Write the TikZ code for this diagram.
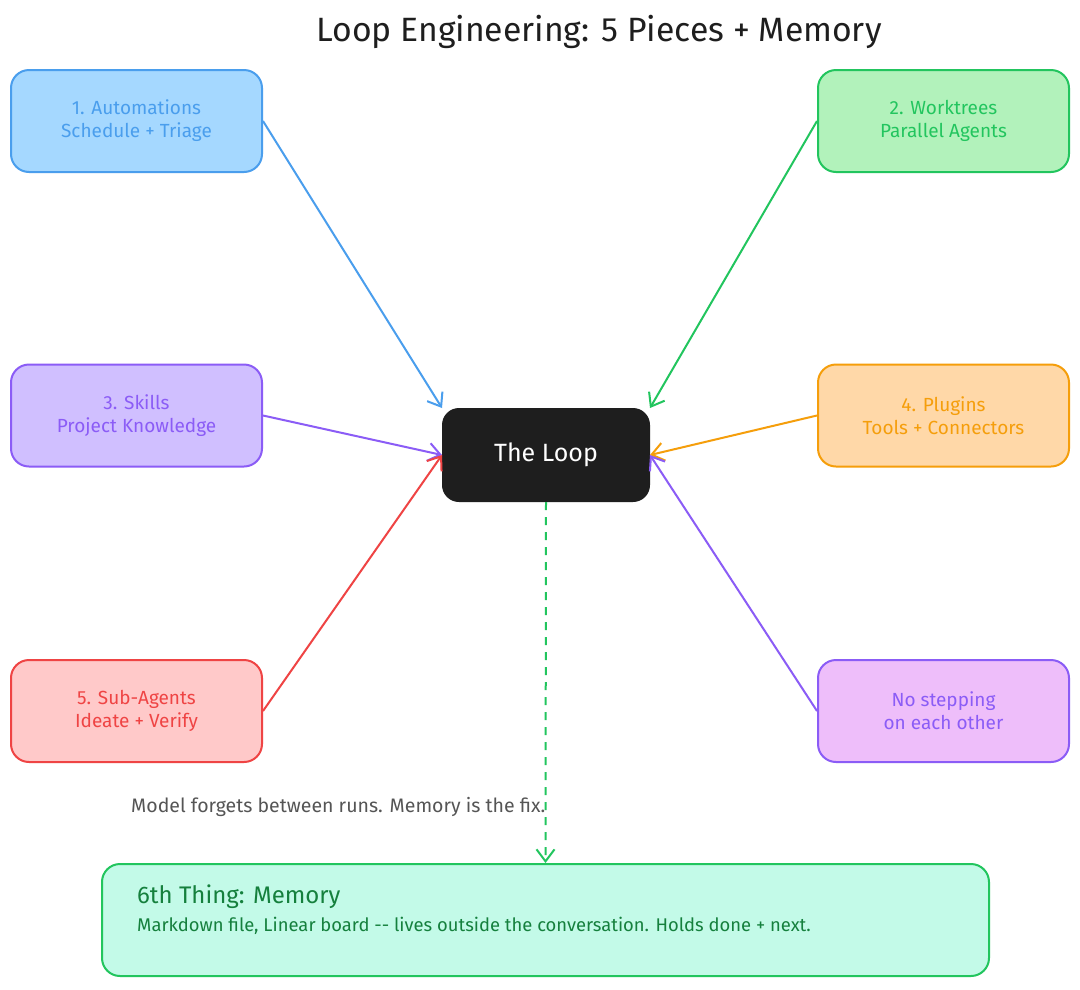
\documentclass[tikz,border=0pt]{standalone}
\usepackage{fontspec}
\setmainfont{Fira Sans}
\usetikzlibrary{arrows.meta}
\definecolor{bstroke}{HTML}{4A9EED}\definecolor{bfill}{HTML}{A5D8FF}
\definecolor{gstroke}{HTML}{22C55E}\definecolor{gfill}{HTML}{B2F2BB}
\definecolor{pstroke}{HTML}{8B5CF6}\definecolor{pfill}{HTML}{D0BFFF}
\definecolor{ostroke}{HTML}{F59E0B}\definecolor{ofill}{HTML}{FFD8A8}
\definecolor{rstroke}{HTML}{EF4444}\definecolor{rfill}{HTML}{FFC9C9}
\definecolor{mfill}{HTML}{EEBEFA}
\definecolor{memfill}{HTML}{C3FAE8}\definecolor{memtext}{HTML}{15803D}
\definecolor{dark}{HTML}{1E1E1E}\definecolor{note}{HTML}{555555}
\begin{document}
\begin{tikzpicture}[x=1pt,y=-1pt,
  piece/.style={draw=#1, text=#1, line width=2pt, rounded corners=18pt,
    minimum width=251pt, minimum height=102pt, inner sep=0pt, align=center,
    font=\fontsize{19}{23}\selectfont},
  conn/.style={draw=#1, line width=2pt, -{Straight Barb[length=12pt,width=18pt,line width=2pt]}},
  plain/.style={anchor=base west, inner sep=0pt},
]
\useasboundingbox[fill=white] (0,0) rectangle (1080,989);
\node[font=\fontsize{33.7}{38}\selectfont, text=dark] (title) at (599,32) {Loop Engineering: 5 Pieces + Memory};
\node[piece=bstroke, fill=bfill] (b1) at (136.5,121) {1. Automations\\Schedule + Triage};
\node[piece=gstroke, fill=gfill] (b2) at (943.5,121) {2. Worktrees\\Parallel Agents};
\node[piece=pstroke, fill=pfill] (b3) at (136.5,415.5) {3. Skills\\Project Knowledge};
\node[piece=ostroke, fill=ofill] (b4) at (943.5,415.5) {4. Plugins\\Tools + Connectors};
\node[piece=rstroke, fill=rfill] (b5) at (136.5,711) {5. Sub-Agents\\Ideate + Verify};
\node[piece=pstroke, fill=mfill] (b6) at (943.5,711) {No stepping\\on each other};
\node[draw=dark, fill=dark, text=white, line width=2pt, rounded corners=16pt,
  minimum width=206pt, minimum height=92pt, inner sep=0pt,
  font=\fontsize{25}{28}\selectfont] (c) at (546,455) {The Loop};
\node[draw=gstroke, fill=memfill, line width=2pt, rounded corners=18pt,
  minimum width=887pt, minimum height=112pt, inner sep=0pt] (mem) at (545.5,920) {};
\node[plain, text=memtext, font=\fontsize{24}{28}\selectfont] (memt) at (137,903) {6th Thing: Memory};
\node[plain, text=memtext, font=\fontsize{18.4}{22}\selectfont] (memb) at (137,931) {Markdown file, Linear board -{}- lives outside the conversation. Holds done + next.};
\node[plain, text=note, font=\fontsize{19.5}{22}\selectfont] (nt) at (131,812) {Model forgets between runs. Memory is the fix.};
\draw[conn=bstroke] (b1.east) -- (c.north west);
\draw[conn=gstroke] (b2.west) -- (c.north east);
\draw[conn=pstroke] (b3.east) -- (c.west);
\draw[conn=ostroke] (b4.west) -- (c.east);
\draw[conn=rstroke] (b5.east) -- (c.west);
\draw[conn=pstroke] (b6.west) -- (c.east);
\draw[conn=gstroke, dash pattern=on 8pt off 7pt] (c.south) -- (mem.north);
\end{tikzpicture}
\end{document}
